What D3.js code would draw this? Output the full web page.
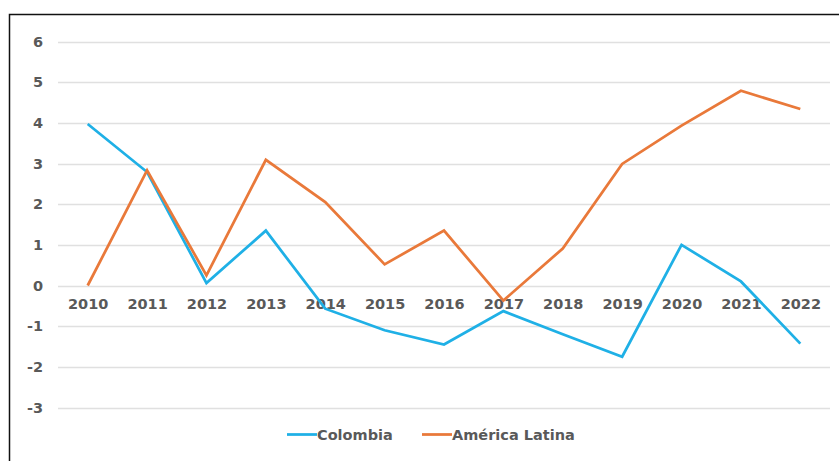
<!DOCTYPE html>
<html>
<head>
<meta charset="utf-8">
<script src="https://cdn.jsdelivr.net/npm/d3@7"></script>
<style>
html,body{margin:0;padding:0;background:#fff;}
svg{display:block;}
</style>
</head>
<body>
<svg id="chart" width="839" height="461"></svg>
<script>
const years = ["2010","2011","2012","2013","2014","2015","2016","2017","2018","2019","2020","2021","2022"];
const colombia = [3.97, 2.79, 0.06, 1.35, -0.57, -1.1, -1.45, -0.63, -1.2, -1.75, 1.0, 0.1, -1.43];
const americaLatina = [0.0, 2.83, 0.25, 3.09, 2.05, 0.52, 1.35, -0.37, 0.91, 2.99, 3.93, 4.79, 4.34];
const yTicks = [6, 5, 4, 3, 2, 1, 0, -1, -2, -3];
const seriesNames = ["Colombia", "América Latina"];
const seriesColors = ["#1FB0E6", "#E9793A"];

const svg = d3.select("#chart");
const font = "'DejaVu Sans', Verdana, sans-serif";
const textColor = "#595959";
const fs = 14.5;

// frame
svg.append("path")
  .attr("d", "M9.5,470 L9.5,14.5 L850,14.5")
  .attr("fill", "none").attr("stroke", "#111").attr("stroke-width", 1.5);

const x = d3.scalePoint().domain(years).range([58, 830]).padding(0.5);
const y = d3.scaleLinear().domain([-3, 6]).range([407.5, 41.5]);

// gridlines
svg.append("g").selectAll("line").data(yTicks).join("line")
  .attr("x1", 58).attr("x2", 830)
  .attr("y1", d => Math.round(y(d)) + 0.5).attr("y2", d => Math.round(y(d)) + 0.5)
  .attr("stroke", "#E0E0E0").attr("stroke-width", 1.5);

// y axis
const yAxis = svg.append("g").attr("transform", "translate(49,0)")
  .call(d3.axisLeft(y).tickValues(yTicks).tickSize(0).tickPadding(6).tickFormat(d => String(d)));
yAxis.select(".domain").remove();
yAxis.selectAll("text").attr("font-family", font).attr("font-weight", "bold")
  .attr("font-size", fs).attr("fill", textColor);

// x axis labels at y=0
const xAxis = svg.append("g").attr("transform", `translate(0,${y(0)})`)
  .call(d3.axisBottom(x).tickSize(0).tickPadding(13));
xAxis.select(".domain").remove();
xAxis.selectAll("text").attr("font-family", font).attr("font-weight", "bold")
  .attr("font-size", fs).attr("fill", textColor);

// lines
const line = d3.line().x((d, i) => x(years[i])).y(d => y(d));
[colombia, americaLatina].forEach((vals, k) => {
  svg.append("path").datum(vals)
    .attr("d", line)
    .attr("fill", "none")
    .attr("stroke", seriesColors[k])
    .attr("stroke-width", 2.75)
    .attr("stroke-linejoin", "miter");
});

// legend
const legendX = [287, 422];
const lg = svg.append("g");
seriesNames.forEach((name, k) => {
  lg.append("line").attr("x1", legendX[k]).attr("x2", legendX[k] + 30)
    .attr("y1", 434.5).attr("y2", 434.5)
    .attr("stroke", seriesColors[k]).attr("stroke-width", 2.75);
  lg.append("text").attr("x", legendX[k] + 30).attr("y", 439.5)
    .attr("font-family", font).attr("font-weight", "bold").attr("font-size", fs)
    .attr("fill", textColor).text(name);
});
</script>
</body>
</html>
